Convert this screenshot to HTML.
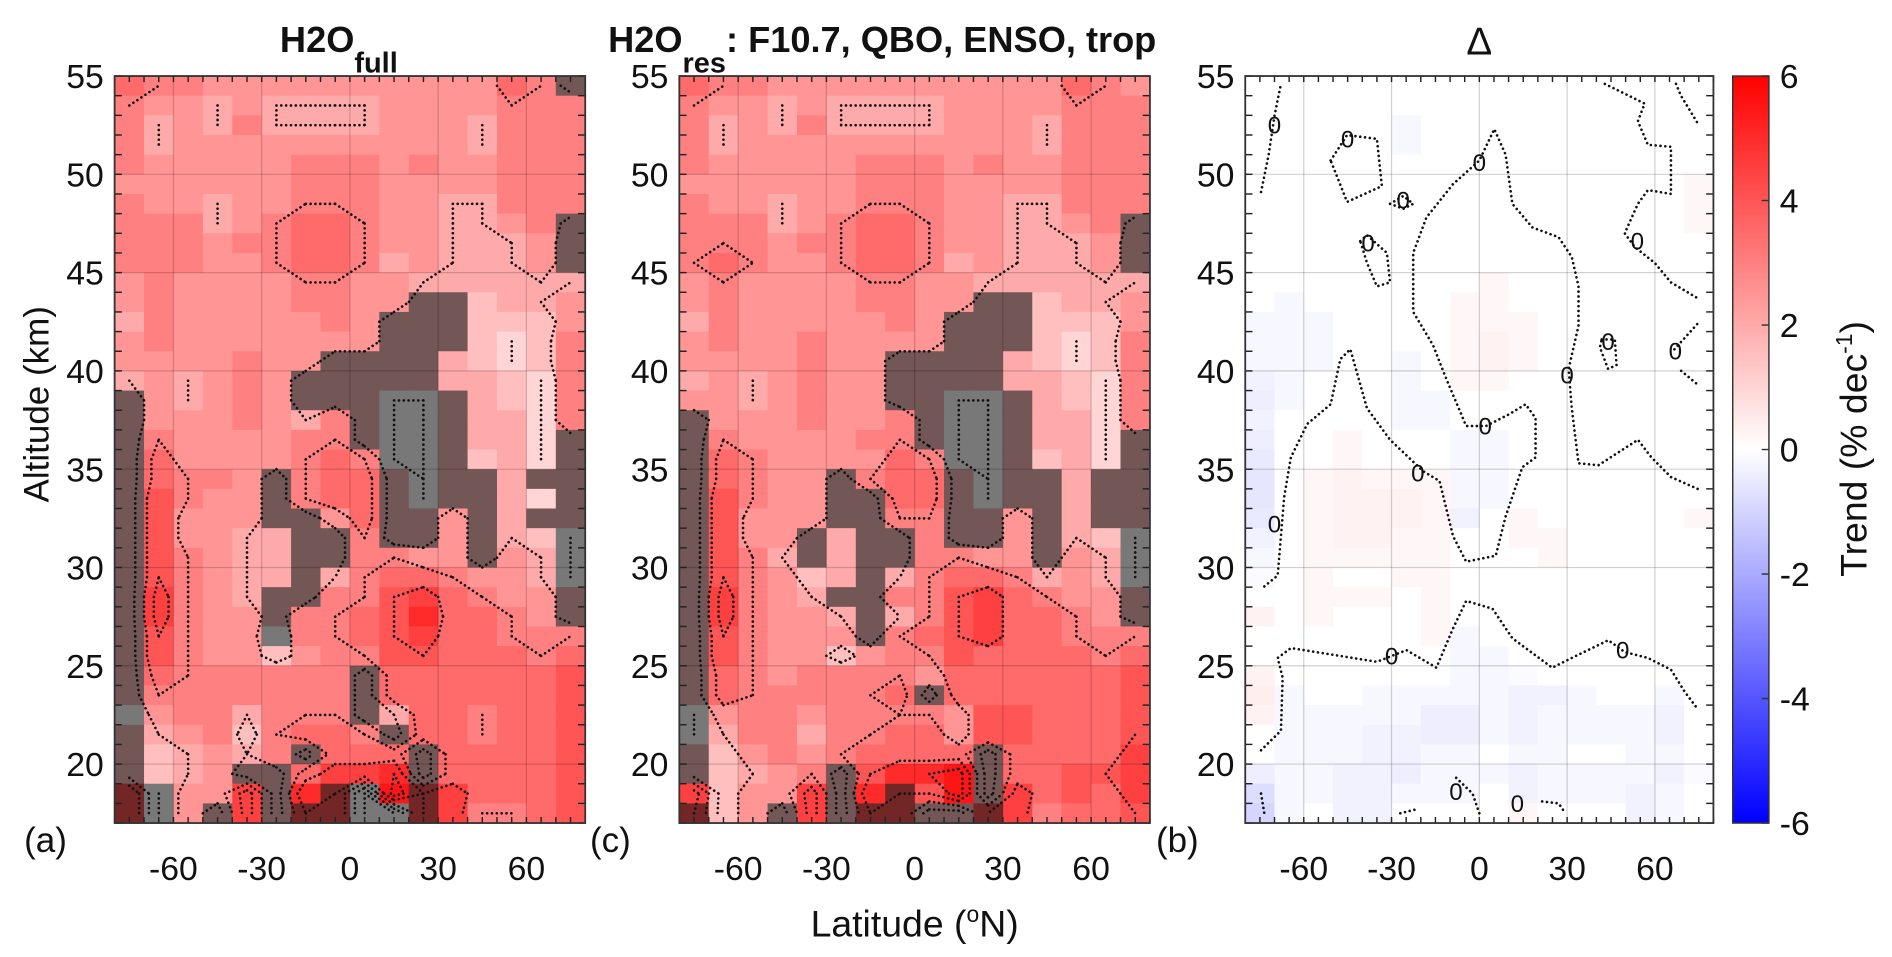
<!DOCTYPE html>
<html><head><meta charset="utf-8"><title>H2O trends</title>
<style>
html,body{margin:0;padding:0;background:#fff;}
svg{display:block;font-family:"Liberation Sans",Arial,sans-serif;}
</style></head>
<body>
<svg id="fig" width="1892" height="957" viewBox="0 0 1568 793" preserveAspectRatio="none" xmlns="http://www.w3.org/2000/svg">
<g id="layer"></g>
</svg>
<script>
const latEdges = [-80,-70,-60,-50,-40,-30,-20,-10,0,10,20,30,40,50,60,70,80];
const altTop = 55, altBottom = 17;
const xTickValues = [-60,-30,0,30,60];
const yTickValues = [20,25,30,35,40,45,50,55];
const cbTickValues = [6,4,2,0,-2,-4,-6];

const panelA = [
"3.5 3 3 2.5 2.5 2.5 2.5 2.5 2.5 2.5 2.5 2.5 2.5 3.5 3 g",
"3 2.5 2.5 2 2.5 2 2 2 2 2.5 2.5 2.5 2.5 3 3 3",
"3 2 2.5 2 3 2 2 2 2 2.5 2.5 2.5 2 3 3 3",
"3 2 2.5 2.5 2.5 2.5 2.5 2.5 2.5 2.5 2.5 2.5 2 3 3 3",
"3 2.5 2.5 2.5 2.5 2.5 3 3 3 2.5 3 2.5 2.5 3 3 3",
"2.5 2.5 2.5 2.5 2.5 2.5 3 3 3 2.5 2.5 2.5 2.5 3 3 3",
"3 2.5 2.5 2 2.5 2.5 3 3 3 2.5 2.5 2 2 3 3 3",
"3 3 3 2 2.5 3 3.5 3.5 3 2.5 2.5 2 2 2.5 3 g",
"3 3 3 2.5 3 3 3.5 3.5 3 2.5 2.5 2 2 2 2.5 g",
"3 3 3 2.5 2.5 3 3.5 3.5 3 2 2.5 2 2 2 2.5 g",
"2.5 3 2.5 2.5 2.5 2.5 3 3 2.5 2.5 2 2 2 2 2 2",
"2.5 3 2.5 2.5 2.5 2.5 3 3 2.5 2.5 g g 1.5 2 2 2.5",
"2 3 2.5 2.5 2.5 2.5 2.5 3 2.5 g g g 1.5 1.5 1.5 2.5",
"2.5 3 2.5 2.5 2.5 2.5 2.5 2.5 2.5 g g g 1.5 1 1.5 3",
"2.5 2.5 2.5 2.5 3 2.5 2.5 g g g g 2 1.5 1 1.5 3",
"2 2.5 2 2.5 3 2.5 g g g g g 2 2 1.5 1 3",
"g 2.5 2 2.5 3 2.5 g g g k k g 2 1.5 1 3",
"g 2.5 2.5 2.5 3 2.5 2 3 g k k g 2 2 1 3",
"g 3 2.5 2.5 2.5 2.5 3 3 g k k g 2 2 1 g",
"g 3.5 2.5 2.5 2.5 2.5 3 3.5 3 k k g 1.5 2 1 g",
"g 3.5 3 3 2.5 g 3 3.5 3.5 g k g g 2 g g",
"g 4 3 2.5 2.5 g 3 3.5 3.5 g k g g 2 1 g",
"g 4 2.5 2.5 2.5 g g 2.5 3.5 g g 2.5 g 2 g g",
"g 4 2.5 2.5 2 2 g g 3 g g 2.5 g 2 1.5 k",
"g 4 3 2.5 2 2 g g 3 3 2.5 2.5 g 2.5 2 k",
"g 4 3 2.5 2 2 g 2 3 3.5 3.5 3 2.5 2.5 2 k",
"g 4.5 3 2.5 2 g g 3 3 4 4.5 3.5 3 2.5 2.5 g",
"g 4.5 3 2.5 2.5 g 3 3 3.5 4 5 3.5 3.5 3 2.5 g",
"g 4 3 2.5 2.5 k 3 3 3.5 4 4.5 3.5 3.5 3 3 3",
"g 4 3 2.5 2.5 1.5 2.5 3 3 4 4 3.5 3.5 3.5 3 3.5",
"g 3.5 3 3 3 3 3 3 g 3.5 3.5 3.5 3.5 3.5 3.5 4",
"g 3 3 3 3 3 3 3 g 3.5 3.5 3.5 3.5 3.5 3.5 4",
"k 2.5 3 3 2 3 3 3 g 2 3.5 3.5 3 3.5 3.5 4",
"g 2 2.5 3 1.5 3 3.5 3.5 3 g 3.5 3.5 3 3.5 3.5 4",
"g 1.5 2 2.5 2 3 g 3.5 3.5 3.5 g 3.5 3.5 3.5 3.5 4",
"g 1.5 2 2.5 g g 3.5 4.5 4.5 5 g 3.5 3.5 3.5 3.5 4",
"d k 2.5 2.5 4.5 g 5 d k 5.5 d 4.5 3.5 3.5 3.5 4",
"d k 2.5 g 4.5 g d d k k d 4.5 3 3 3.5 4"
];

const panelC = [
"3.5 3 3 2.5 2.5 2.5 2.5 2.5 2.5 2.5 2.5 2.5 2.5 3.5 3 2.5",
"3 2.5 2.5 2 2.5 2 2 2 2 2.5 2.5 2.5 2.5 3 3 3",
"3 2 2.5 2 3 2 2 2 2 2.5 2.5 2.5 2 3 3 3",
"3 2 2.5 2.5 2.5 2.5 2.5 2.5 2.5 2.5 2.5 2.5 2 3 3 3",
"3 2.5 2.5 2.5 2.5 2.5 3 3 3 2.5 3 2.5 2.5 3 3 3",
"2.5 2.5 2.5 2.5 2.5 2.5 3 3 3 2.5 2.5 2.5 2.5 3 3 3",
"3 2.5 2.5 2 2.5 2.5 3 3 3 2.5 2.5 2 2 3 3 3",
"3 3 3 2 2.5 3 3.5 3.5 3 2.5 2.5 2 2 2.5 3 g",
"3 3 3 2.5 3 3 3.5 3.5 3 2.5 2.5 2 2 2 2.5 g",
"3 3.5 3 2.5 2.5 3 3.5 3.5 3 2 2.5 2 2 2 2.5 g",
"2.5 3 2.5 2.5 2.5 2.5 3 3 2.5 2.5 2 2 2 2 2 2",
"2.5 3 2.5 2.5 2.5 2.5 3 3 2.5 2.5 g g 1.5 2 2 2.5",
"2 3 2.5 2.5 2.5 2.5 2.5 3 2.5 g g g 1.5 1.5 1.5 2.5",
"2.5 3 2.5 2.5 3 2.5 2.5 2.5 2.5 g g g 1.5 1 1.5 3",
"2.5 2.5 2.5 2.5 3 2.5 2.5 g g g g 2 1.5 1 1.5 3",
"2 2.5 2 2.5 3 2.5 2.5 g g g g 2 2 1.5 1 3",
"2.5 2.5 2 2.5 3 2.5 2.5 g g k k g 2 1.5 1 3",
"g 2.5 2.5 2.5 3 2.5 2.5 3 g k k g 2 2 1 3",
"g 3 2.5 2.5 2.5 2.5 3 3 g k k g 2 2 1 g",
"g 3.5 3 2.5 2.5 2.5 2.5 3.5 3 k k g 1.5 2 1 g",
"g 3.5 3 2.5 2.5 g 3 3.5 3.5 g k g g 2 g g",
"g 4 3 2.5 2.5 g g 3.5 3.5 g k g g 2 g g",
"g 4 2.5 2.5 2.5 g g 3 3 g g 2.5 g 2 g g",
"g 4 2.5 2.5 g 2 g g 3 g g 2.5 g 2 1.5 k",
"g 4 3 2 g 2 g g 3 3 2.5 2.5 g 2.5 2 k",
"g 4 3 2.5 1.5 2 g 2 3 3.5 3.5 3 2 2.5 2 k",
"g 4.5 3 2.5 2 g g 3 3 4 4.5 3.5 3 2.5 2.5 g",
"g 4.5 3 2.5 2.5 2 g 2 3 4 4.5 3.5 3.5 3 2.5 g",
"g 4 3 2.5 2.5 2.5 g 3 3.5 4 4.5 3.5 3.5 3 3 3",
"g 4 3 2.5 2.5 1.5 2.5 3 3 4 3.5 3.5 3.5 3.5 3 3.5",
"g 3.5 3 2.5 3 3 3 3 2.5 3.5 3.5 3.5 3.5 3.5 3.5 4",
"g 3.5 3 3 3 3 3 3.5 g 3.5 3.5 3.5 3.5 3.5 3.5 4",
"k 2.5 3 3 2.5 3 3 3 3 2.5 4 4 3.5 3.5 3.5 4",
"k 2 3 3 2 3 3 3.5 3.5 2.5 4 4 3.5 3.5 3.5 4",
"g 1.5 2.5 3 2.5 3 3.5 3.5 3.5 3.5 g 3.5 3.5 3.5 3.5 4.5",
"g 1.5 2 2.5 3 g 4 5 5 5.5 g 3.5 3.5 4 4 4.5",
"4.5 1.5 2.5 2.5 4.5 g 5 d 4 5.5 g 4.5 3.5 4 3.5 4.5",
"d 1.5 2.5 g 4.5 g d d g g d 4.5 3 3.5 3.5 4"
];

const panelB = [
"0 0 0 0 0 0 0 0 0 0 0 0 0 0 0 0",
"0 0 0 0 0 0 0 0 0 0 0 0 0 0 0 0",
"0 0 0 0 0 -0.2 0 0 0 0 0 0 0 0 0 0",
"0 0 0 0 0 -0.2 0 0 0 0 0 0 0 0 0 0",
"0 0 0 0 0 0 0 0 0 0 0 0 0 0 0 0",
"0 0 0 0 0 0 0 0 0 0 0 0 0 0 0 0.2",
"0 0 0 0 0 0 0 0 0 0 0 0 0 0 0 0.2",
"0 0 0 0 0 0 0 0 0 0 0 0 0 0 0 0.2",
"0 0 0 0 0 0 0 0 0 0 0 0 0 0 0 0",
"0 0 0 0 0 0 0 0 0 0 0 0 0 0 0 0",
"0 0 0 0 0 0 0 0 0.2 0 0 0 0 0 0 0",
"0 -0.2 0 0 0 0 0 0.2 0.2 0 0 0 0 0 0 0",
"-0.2 -0.2 -0.2 0 0 0 0 0.2 0.2 0.2 0 0 0 0 0 0",
"-0.2 -0.2 -0.2 0 0 0 0 0.2 0.3 0.2 0 0 0 0 0 0",
"-0.2 -0.2 -0.2 0 0 -0.2 0 0.2 0.3 0.2 0 0 0 0 0 0",
"-0.3 -0.2 0 0 0 -0.2 0 0.2 0.2 0 0 0 0 0 0 0",
"-0.4 -0.2 0 0 0 -0.2 -0.2 0 0 0 0 0 0 0 0 0",
"-0.3 0 0 0 0 -0.2 -0.2 0 0 0 0 0 0 0 0 0",
"-0.4 0 0 0.2 0 0 0 -0.2 -0.2 0 0 0 0 0 0 0",
"-0.5 0 0 0.2 0 0 0 -0.2 -0.2 0 0 0 0 0 0 0",
"-0.6 0 0.2 0.3 0.2 0.2 0.2 -0.2 -0.2 0 0 0 0 0 0 0",
"-0.6 0 0.2 0.3 0.3 0.3 0.2 -0.2 -0.2 0 0 0 0 0 0 0",
"-0.5 0 0.2 0.3 0.3 0.3 0.2 -0.3 0 0.2 0 0 0 0 0 0.2",
"-0.3 0 0.2 0.3 0.3 0.2 0.2 0 0 0.2 0.2 0 0 0 0 0",
"-0.2 0 0.2 0.2 0.2 0.2 0.2 0 0 0 0.2 0 0 0 0 0",
"-0.1 0 0.2 0 0 0.2 0.2 0 0 0 0 0 0 0 0 0",
"0 0 0.2 0.2 0.2 0 0.2 0 0 0 0 0 0 0 0 0",
"0.3 0 0.2 0 0 0 0.2 0 0 0 0 0 0 0 0 0",
"0 0 0 0 0 0 0.2 -0.2 0 0 0 0 0 0 0 0",
"0 0 0 0 0 0 0 -0.2 -0.2 0 0 0 0 0 0 0",
"0.3 0 0 0 0 0 0 -0.2 -0.2 -0.1 0 0 0 0 0 0",
"0.4 -0.2 0 0 -0.2 -0.2 -0.2 -0.2 -0.2 -0.3 -0.3 -0.2 0 0 -0.2 0",
"0.3 -0.2 -0.2 -0.2 -0.2 -0.2 -0.4 -0.4 -0.2 -0.3 -0.2 -0.2 -0.2 -0.2 -0.3 0",
"0 -0.2 -0.2 -0.2 -0.3 -0.3 -0.4 -0.4 -0.2 -0.3 -0.2 -0.2 -0.2 -0.2 -0.3 0",
"0 -0.2 -0.2 -0.2 -0.3 -0.3 -0.2 -0.2 0 -0.2 -0.2 0 0 -0.2 -0.2 0",
"-0.4 -0.2 -0.2 -0.3 -0.3 -0.4 -0.2 -0.2 -0.2 -0.3 -0.2 -0.2 -0.2 -0.2 -0.3 -0.1",
"-0.8 -0.2 -0.2 -0.3 -0.3 -0.2 -0.2 -0.2 0 -0.3 -0.2 -0.2 -0.2 -0.3 -0.2 0",
"-1 -0.2 0 -0.3 -0.3 0 0 0 0 0.2 0 0 0 -0.3 -0.2 0"
];

const deltaContourMain = [[74.6,34.0],[65.5,34.6],[58.8,35.6],[54.2,36.5],[40.7,35.2],[33.9,35.3],[31.6,38.1],[30.5,40.1],[33.9,42.3],[33.9,44.3],[31.6,45.8],[27.1,46.8],[18.1,47.3],[11.3,48.5],[9.0,51.0],[5.1,52.3],[0.0,50.7],[-9.0,49.5],[-18.1,47.8],[-22.6,46.0],[-22.6,43.0],[-15.8,41.3],[-11.3,39.6],[-4.5,37.2],[2.3,37.2],[10.2,37.8],[15.8,38.3],[19.2,37.6],[19.2,35.6],[14.7,35.1],[9.0,32.6],[5.6,30.6],[-4.5,30.3],[-9.0,31.6],[-13.6,34.4],[-19.2,34.9],[-30.5,36.5],[-38.4,38.1],[-44.1,41.1],[-47.5,40.6],[-50.8,38.3],[-58.8,37.3],[-64.4,35.6],[-66.7,33.6],[-68.9,29.6],[-74.6,28.9]];
const deltaContourLower = [[-74.6,20.7],[-67.8,21.7],[-67.2,24.4],[-68.9,25.4],[-64.4,25.9],[-35.0,25.2],[-24.9,25.8],[-14.7,24.9],[-9.0,26.9],[-4.5,28.3],[4.5,27.9],[11.3,26.4],[24.9,24.9],[31.6,25.4],[44.1,26.3],[49.7,25.7],[57.6,25.4],[65.5,24.8],[70.1,23.7],[74.6,22.8]];
const deltaContourTopLeft = [[-74.6,49.1],[-72,51],[-70,53],[-67.8,54.6]];
const deltaLoop1 = [[-50.8,50.7],[-45.2,52.0],[-35.0,51.8],[-33.3,49.4],[-45.2,48.6],[-50.8,50.7]];
const deltaLoop2 = [[-30.5,48.5],[-26,48.9],[-22.6,48.5],[-26,48.25],[-30.5,48.5]];
const deltaLoop3 = [[-40.7,46.6],[-38.4,46.9],[-31.6,46.0],[-30.5,44.5],[-35,44.3],[-38.4,45.5],[-40.7,46.6]];
const deltaContourRight = [[42.9,54.6],[56.5,53.6],[54.2,52.7],[57.6,51.5],[65.5,51.4],[65.5,49.0],[57.6,49.2],[54.2,48.5],[49.7,47.0],[53.1,46.3],[59.9,45.5],[65.5,44.5],[74.6,43.7]];
const deltaContourRightTop = [[67.2,54.6],[68.9,54.0],[74.6,52.6]];
const deltaLoop4 = [[41.8,41.6],[46.3,41.6],[46.9,40.3],[44.0,40.1],[41.2,41.2],[41.8,41.6]];
const deltaContourRight2 = [[66.7,41.1],[74.6,42.4]];
const deltaContourRight3 = [[69,40],[74.6,39.3]];
const deltaBottom1 = [[-74.6,18.5],[-73.5,17.5]];
const deltaBottom2 = [[-27,17.5],[-21.5,17.7]];
const deltaBottom3 = [[-7.9,19.3],[-2.3,18.5],[0,17.5]];
const deltaBottom4 = [[21.5,18.1],[27.1,18.0],[29.4,17.5]];
const deltaContours = [deltaContourMain,deltaContourLower,deltaContourTopLeft,deltaLoop1,deltaLoop2,deltaLoop3,deltaContourRight,deltaContourRightTop,deltaLoop4,deltaContourRight2,deltaContourRight3,deltaBottom1,deltaBottom2,deltaBottom3,deltaBottom4];
const deltaLabelPts = [[-70,52.5],[-45,51.8],[-26,48.7],[-38,46.5],[0,50.6],[54,46.6],[44,41.5],[67,41.0],[30,39.8],[2,37.2],[-21,34.8],[-70,32.2],[-30,25.5],[49,25.8],[-8,18.6],[13,18.0]];

const NS = "http://www.w3.org/2000/svg";
const layer = document.getElementById('layer');
function mk(tag, attrs, parent){ const e=document.createElementNS(NS,tag); for(const k in attrs) e.setAttribute(k,attrs[k]); (parent||layer).appendChild(e); return e; }

const panels = [
  {key:'a', x0:95, x1:485, rows:panelA, letter:'(a)', lx:20},
  {key:'c', x0:563, x1:953, rows:panelC, letter:'(c)', lx:489},
  {key:'b', x0:1032, x1:1420, rows:panelB, letter:'(b)', lx:958}
];
const Y0=63, Y1=682;

function colorOf(v){
  const t=Math.min(1,Math.abs(v)/6);
  const c=Math.round(255*(1-t));
  return v>=0?[255,c,c]:[c,c,255];
}
function parseTok(tok){
  if(tok==='g') return {v:1.5, fill:null, dark:true};
  if(tok==='d') return {v:4, fill:null, dark:true};
  if(tok==='k') return {v:1, fill:'rgb(120,120,120)', dark:false};
  return {v:parseFloat(tok), fill:null, dark:false};
}

panels.forEach(p=>{
  const xS = lat => p.x0 + (lat-latEdges[0])/(latEdges[latEdges.length-1]-latEdges[0])*(p.x1-p.x0);
  const yS = alt => Y0 + (altTop-alt)/(altTop-altBottom)*(Y1-Y0);
  const g = mk('g',{});
  
  
  const grid = p.rows.map(r=>r.trim().split(/\s+/).map(parseTok));
  const cellsG = mk('g',{},g);
  
  
  grid.forEach((row,i)=>{
    const aHi = altTop - i, aLo = altTop - i - 1;
    row.forEach((cell,j)=>{
      let fill = cell.fill;
      if(!fill){ let c=colorOf(cell.v); if(cell.dark) c=c.map(x=>Math.round(x*0.45)); fill='rgb('+c.join(',')+')'; }
      const x=xS(latEdges[j]), w=xS(latEdges[j+1])-x, y=yS(aHi), h=yS(aLo)-y;
      const r=mk('rect',{x:x, y:y, width:w+0.4, height:h+0.4, fill:fill},cellsG);
      
      
    });
  });
  const gl = mk('g',{stroke:'rgba(0,0,0,0.18)','stroke-width':1},g);
  
  
  xTickValues.forEach(v=>mk('line',{x1:xS(v),x2:xS(v),y1:Y0,y2:Y1},gl));
  yTickValues.forEach(v=>mk('line',{x1:p.x0,x2:p.x1,y1:yS(v),y2:yS(v)},gl));
  const cg = mk('g',{fill:'none',stroke:'#111','stroke-width':2.2,'stroke-dasharray':'0.01 4','stroke-linecap':'round'},g);
  
  
  if(p.key!=='b'){
    const nR=grid.length, nC=grid[0].length;
    const cx = j => xS((latEdges[j]+latEdges[j+1])/2);
    const cy = i => yS(altTop-i-0.5);
    [1,2,3,4,5].forEach(L=>{
      let d='';
      for(let i=0;i<nR-1;i++) for(let j=0;j<nC-1;j++){
        const tl=grid[i][j].v, tr=grid[i][j+1].v, br=grid[i+1][j+1].v, bl=grid[i+1][j].v;
        const idx=(tl>L?8:0)|(tr>L?4:0)|(br>L?2:0)|(bl>L?1:0);
        if(idx===0||idx===15) continue;
        const x0=cx(j), x1=cx(j+1), y0=cy(i), y1=cy(i+1);
        const f=(a,b)=>(L-a)/(b-a);
        const T=()=>[x0+(x1-x0)*f(tl,tr), y0];
        const R=()=>[x1, y0+(y1-y0)*f(tr,br)];
        const B=()=>[x0+(x1-x0)*f(bl,br), y1];
        const Lf=()=>[x0, y0+(y1-y0)*f(tl,bl)];
        const segs={1:[[Lf,B]],2:[[B,R]],3:[[Lf,R]],4:[[T,R]],5:[[Lf,T],[B,R]],6:[[T,B]],7:[[Lf,T]],8:[[Lf,T]],9:[[T,B]],10:[[T,R],[Lf,B]],11:[[T,R]],12:[[Lf,R]],13:[[B,R]],14:[[Lf,B]]}[idx];
        segs.forEach(s=>{const a=s[0](), b=s[1](); d+='M'+a[0].toFixed(1)+' '+a[1].toFixed(1)+'L'+b[0].toFixed(1)+' '+b[1].toFixed(1);});
      }
      if(d){ const pa=mk('path',{d:d},cg);
        
         }
    });
  } else {
    deltaContours.forEach(line=>{
      const d=line.map((pt,k)=>(k?'L':'M')+xS(pt[0]).toFixed(1)+' '+yS(pt[1]).toFixed(1)).join('');
      const pa=mk('path',{d:d},cg);
      
      
    });
    deltaLabelPts.forEach(pt=>{
      const t=mk('text',{x:xS(pt[0]),y:yS(pt[1])+7,'font-size':20,'text-anchor':'middle',fill:'#111'},g);
      t.textContent='0';
      
      
    });
  }
  const tk = mk('g',{stroke:'#222','stroke-width':1.2},g);
  
  
  for(let lat=-80;lat<=80;lat+=5){ const x=xS(lat); mk('line',{x1:x,x2:x,y1:Y1,y2:Y1-5},tk); mk('line',{x1:x,x2:x,y1:Y0,y2:Y0+5},tk); }
  for(let alt=altBottom;alt<=altTop;alt+=1){ const y=yS(alt); mk('line',{x1:p.x0,x2:p.x0+6,y1:y,y2:y},tk); mk('line',{x1:p.x1,x2:p.x1-6,y1:y,y2:y},tk); }
  const fr=mk('rect',{x:p.x0,y:Y0,width:p.x1-p.x0,height:Y1-Y0,fill:'none',stroke:'#333','stroke-width':1.5},g);
  
  
  yTickValues.forEach(v=>{ const t=mk('text',{x:p.x0-9,y:yS(v)+10,'font-size':28,'text-anchor':'end',fill:'#111'},g); t.textContent=v;
      });
  xTickValues.forEach(v=>{ const t=mk('text',{x:xS(v),y:729,'font-size':28,'text-anchor':'middle',fill:'#111'},g); t.textContent=v;
      });
  const lt=mk('text',{x:p.lx,y:706,'font-size':29,fill:'#111'},g); lt.textContent=p.letter;
   
});

const cb = mk('g',{});


const defs=mk('defs',{},cb);
const lg=mk('linearGradient',{id:'cbg',x1:0,y1:0,x2:0,y2:1},defs);
mk('stop',{offset:'0',  'stop-color':'#ff0000'},lg);
mk('stop',{offset:'0.5','stop-color':'#ffffff'},lg);
mk('stop',{offset:'1',  'stop-color':'#0000ff'},lg);
const cbX0=1436, cbX1=1466;
const cbY = v => Y0 + (6-v)/12*(Y1-Y0);
const cbr=mk('rect',{x:cbX0,y:Y0,width:cbX1-cbX0,height:Y1-Y0,fill:'url(#cbg)',stroke:'#333','stroke-width':1.2},cb);
 
cbTickValues.forEach(v=>{
  mk('line',{x1:cbX1-6,x2:cbX1,y1:cbY(v),y2:cbY(v),stroke:'#333','stroke-width':1.2},cb);
  const t=mk('text',{x:1475,y:cbY(v)+10,'font-size':28,fill:'#111'},cb); t.textContent=v;
   
});
</script>
<script>
(function(){
const NS="http://www.w3.org/2000/svg";
const layer=document.getElementById('layer');
function txt(html, attrs, name){ const t=document.createElementNS(NS,'text'); for(const k in attrs) t.setAttribute(k,attrs[k]); t.innerHTML=html;
  
  
  layer.appendChild(t); return t; }
txt('H2O<tspan font-size="24" dy="17">full</tspan>',{x:232,y:43,'font-size':30,'font-weight':'bold',fill:'#111'},'title-a');
txt('H2O<tspan font-size="24" dy="17">res</tspan><tspan dy="-17">: F10.7, QBO, ENSO, trop</tspan>',{x:504,y:43,'font-size':30,'font-weight':'bold',fill:'#111'},'title-c');
txt('Δ',{x:1226,y:45,'font-size':32,'text-anchor':'middle',fill:'#111'},'title-b');
txt('Altitude (km)',{x:0,y:0,'font-size':29,'text-anchor':'middle',fill:'#111',transform:'translate(40,335) rotate(-90)'},'y-axis-title');
txt('Latitude (<tspan font-size="19" dy="-12">o</tspan><tspan dy="12">N)</tspan>',{x:758,y:776,'font-size':31,'text-anchor':'middle',fill:'#111'},'x-axis-title');
txt('Trend (% dec<tspan font-size="19" dy="-12">-1</tspan><tspan dy="12">)</tspan>',{x:0,y:0,'font-size':31,'text-anchor':'middle',fill:'#111',transform:'translate(1547,372) rotate(-90)'},'colorbar-title');
})();
</script>
</body></html>
